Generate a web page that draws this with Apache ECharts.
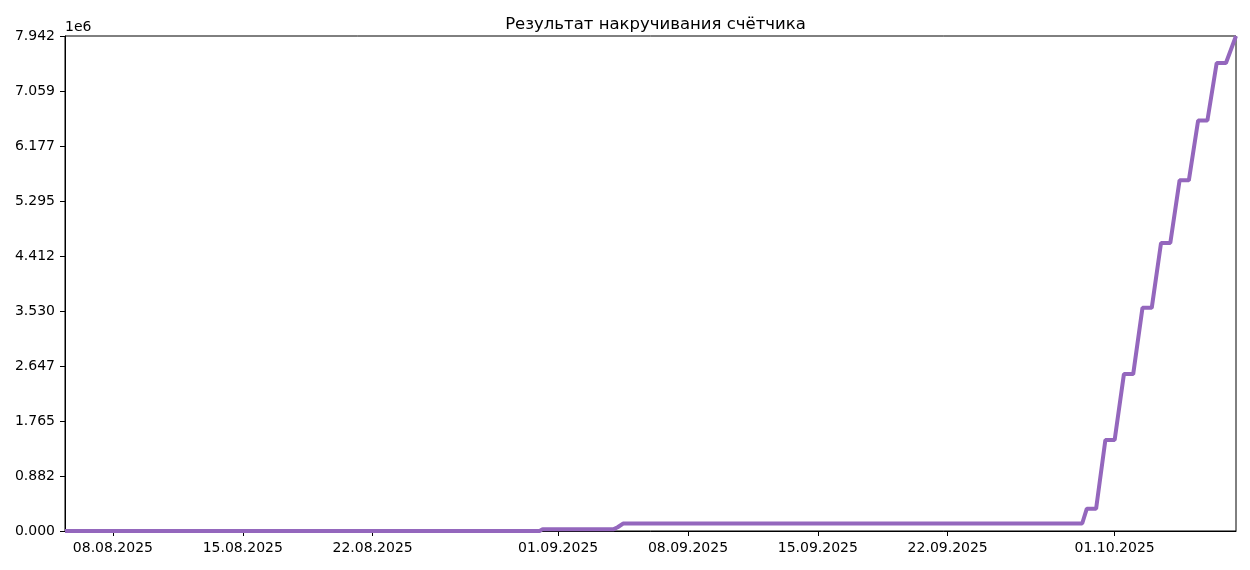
<!DOCTYPE html>
<html>
<head>
<meta charset="utf-8">
<title>Результат накручивания счётчика</title>
<script src="https://cdn.jsdelivr.net/npm/echarts@6/dist/echarts.min.js"></script>
<style>
  html, body { margin: 0; padding: 0; background: #fff; }
  #chart { width: 1250px; height: 570px; }
</style>
</head>
<body>
<div id="chart"></div>
<script>
// counter readings
const times = [
  '2025-08-05 10:00', '2025-08-31 00:00', '2025-08-31 04:00',
  '2025-09-04 00:00', '2025-09-04 05:00', '2025-09-04 12:00',
  '2025-09-29 06:00', '2025-09-29 12:00',
  '2025-09-30 00:00', '2025-09-30 12:00',
  '2025-10-01 00:00', '2025-10-01 12:00',
  '2025-10-02 00:00', '2025-10-02 12:00',
  '2025-10-03 00:00', '2025-10-03 12:00',
  '2025-10-04 00:00', '2025-10-04 12:00',
  '2025-10-05 00:00', '2025-10-05 12:00',
  '2025-10-06 00:00', '2025-10-06 12:00',
  '2025-10-07 00:00', '2025-10-07 13:00'
];
const counts = [
  0, 0, 30000,
  30000, 60000, 120000,
  120000, 358000,
  358000, 1459000,
  1459000, 2517000,
  2517000, 3580000,
  3580000, 4622000,
  4622000, 5626000,
  5626000, 6586000,
  6586000, 7508000,
  7508000, 7941850
];
const xTickDates = [
  '2025-08-08', '2025-08-15', '2025-08-22', '2025-09-01',
  '2025-09-08', '2025-09-15', '2025-09-22', '2025-10-01'
];
const yMax = 7941850;
const yTickCount = 9;

const FONT = 'DejaVu Sans';

const toTs = (s) => {
  const [d, t] = s.split(' ');
  const [y, m, day] = d.split('-').map(Number);
  const [hh, mm] = (t || '00:00').split(':').map(Number);
  return new Date(y, m - 1, day, hh, mm).getTime();
};

const pad = (n) => String(n).padStart(2, '0');
const fmtDate = (v) => {
  const d = new Date(v);
  return pad(d.getDate()) + '.' + pad(d.getMonth() + 1) + '.' + d.getFullYear();
};

const seriesData = times.map((t, i) => [toTs(t), counts[i]]);
const xTicks = xTickDates.map(toTs);
const yTicks = [];
for (let i = 0; i <= yTickCount; i++) yTicks.push(yMax * i / yTickCount);

const chart = echarts.init(document.getElementById('chart'), null, { renderer: 'canvas' });

chart.setOption({
  animation: false,
  backgroundColor: '#fff',
  textStyle: { fontFamily: FONT },
  title: {
    text: 'Результат накручивания счётчика',
    left: 650.5,
    top: 11,
    textAlign: 'center',
    textStyle: { fontFamily: FONT, fontSize: 16.5, fontWeight: 'normal', color: '#000' }
  },
  graphic: [{
    type: 'text',
    left: 65,
    top: 20,
    style: { text: '1e6', font: '14px "DejaVu Sans"', fill: '#000' }
  }],
  grid: {
    left: 65, right: 14, top: 36, bottom: 39,
    show: true, borderColor: '#000', borderWidth: 1, backgroundColor: 'transparent'
  },
  xAxis: {
    type: 'value',
    min: toTs(times[0]),
    max: toTs(times[times.length - 1]),
    axisLine: { show: true, onZero: false, lineStyle: { color: '#000', width: 1 } },
    axisTick: { show: true, length: 5, lineStyle: { color: '#000' }, customValues: xTicks },
    axisLabel: {
      color: '#000', fontFamily: FONT, fontSize: 14, margin: 10,
      customValues: xTicks,
      formatter: (v) => fmtDate(v),
      hideOverlap: false
    },
    splitLine: { show: false }
  },
  yAxis: {
    type: 'value',
    min: 0,
    max: yMax,
    axisLine: { show: true, onZero: false, lineStyle: { color: '#000', width: 1 } },
    axisTick: { show: true, length: 5, lineStyle: { color: '#000' }, customValues: yTicks },
    axisLabel: {
      color: '#000', fontFamily: FONT, fontSize: 14, margin: 10,
      customValues: yTicks,
      formatter: (v) => (v / 1e6).toFixed(3)
    },
    splitLine: { show: false }
  },
  series: [{
    type: 'line',
    data: seriesData,
    showSymbol: false,
    lineStyle: { color: '#9467bd', width: 4 },
    itemStyle: { color: '#9467bd' }
  }]
});
</script>
</body>
</html>
